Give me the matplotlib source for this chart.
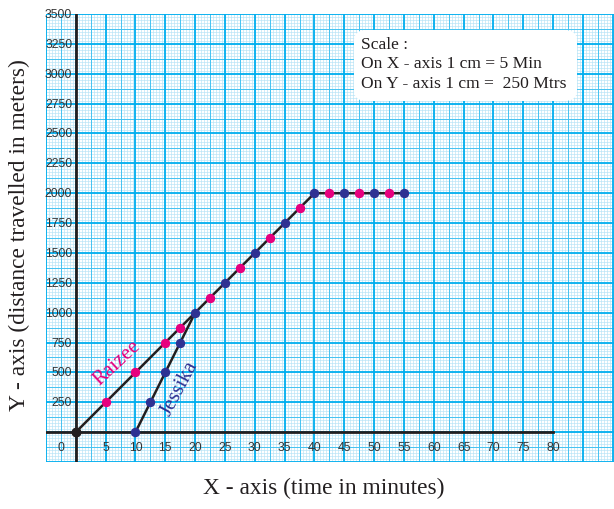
import numpy as np
import matplotlib
matplotlib.use("Agg")
import matplotlib.pyplot as plt
from matplotlib.patches import FancyBboxPatch

# ---- data ----
raizee_t = [5, 10, 15, 17.5, 22.5, 27.5, 32.5, 37.5, 42.5, 47.5, 52.5]
raizee_d = [250, 500, 750, 875, 1125, 1375, 1625, 1875, 2000, 2000, 2000]
jessika_t = [10, 12.5, 15, 17.5, 20, 25, 30, 35, 40, 45, 50, 55]
jessika_d = [0, 250, 500, 750, 1000, 1250, 1500, 1750, 2000, 2000, 2000, 2000]
raizee_path_t = [0, 20, 40, 55]
raizee_path_d = [0, 1000, 2000, 2000]
jessika_path_t = [10, 20]
jessika_path_d = [0, 1000]
origin_t = [0]
origin_d = [0]

x_ticks = [0, 5, 10, 15, 20, 25, 30, 35, 40, 45, 50, 55, 60, 65, 70, 75, 80]
y_ticks = [250, 500, 750, 1000, 1250, 1500, 1750, 2000, 2250, 2500, 2750,
           3000, 3250, 3500]

PINK = "#e6007e"
NAVY = "#2e3192"
BLACK = "#231f20"
MAJ = "#00aeef"
MED = "#45c2f1"
MIN = "#b5e3f7"

fig = plt.figure(figsize=(6.14, 5.10), dpi=100)
ax = fig.add_axes([46 / 614, (510 - 463) / 510, 568 / 614, 448 / 510])
xmin, xmax = -5, 90.2
ymin, ymax = -250, 3500
ax.set_xlim(xmin, xmax)
ax.set_ylim(ymin, ymax)
for s in ax.spines.values():
    s.set_visible(False)
ax.set_xticks([])
ax.set_yticks([])

# graph paper grid
xs_min = np.arange(-5, 90.01, 0.5)
ys_min = np.arange(-250, 3500.1, 25)
ax.vlines(xs_min, ymin, ymax, color=MIN, lw=0.45, zorder=0)
ax.hlines(ys_min, xmin, xmax, color=MIN, lw=0.45, zorder=0)
xs_med = np.arange(-2.5, 90.01, 5)
ys_med = np.arange(-125, 3500.1, 250)
ax.vlines(xs_med, ymin, ymax, color=MED, lw=0.7, zorder=0)
ax.hlines(ys_med, xmin, xmax, color=MED, lw=0.7, zorder=0)
xs_maj = np.arange(-5, 90.01, 5)
ys_maj = np.arange(-250, 3500.1, 250)
ax.vlines(xs_maj, ymin, ymax, color=MAJ, lw=1.3, zorder=0)
ax.hlines(ys_maj, xmin, xmax, color=MAJ, lw=1.3, zorder=0)

# axes lines
ax.plot([0, 0], [ymin, ymax], color=BLACK, lw=2, zorder=2)
ax.plot([xmin, x_ticks[-1]], [0, 0], color=BLACK, lw=2, zorder=2)

# tick labels
for t in x_ticks:
    xp = -2.5 if t == 0 else t
    ax.text(xp, -125, str(t), ha="center", va="center", fontsize=8.8,
            family="Liberation Sans", color="#333333", zorder=3)
for v in y_ticks:
    ax.text(-0.6, v, str(v), ha="right", va="center", fontsize=8.8,
            family="Liberation Sans", color="#333333", zorder=3)

# data lines
ax.plot(raizee_path_t, raizee_path_d, color=BLACK, lw=1.8, zorder=4)
ax.plot(jessika_path_t, jessika_path_d, color=BLACK, lw=1.8, zorder=4)
ax.plot(raizee_t, raizee_d, "o", color=PINK, ms=5.8, zorder=5)
ax.plot(jessika_t, jessika_d, "o", color=NAVY, ms=5.8, zorder=5)
ax.plot(origin_t, origin_d, "o", color=BLACK, ms=6.2, zorder=5)

# series labels
ax.text(6.9, 585, "Raizee", rotation=43, color=PINK, fontsize=15,
        family="Liberation Serif", ha="center", va="center", zorder=6)
ax.text(17.4, 370, "Jessika", rotation=62, color=NAVY, fontsize=15,
        family="Liberation Serif", ha="center", va="center", zorder=6)

# scale box
box = FancyBboxPatch((354 / 614, 1 - 102 / 510), (577 - 354) / 614, (102 - 31) / 510,
                     boxstyle="round,pad=0,rounding_size=0.02",
                     transform=fig.transFigure, facecolor="white",
                     edgecolor="none", zorder=7)
fig.patches.append(box)
scale_lines = ["Scale :", "On X - axis 1 cm = 5 Min",
               "On Y - axis 1 cm =  250 Mtrs"]
for i, line in enumerate(scale_lines):
    fig.text(361 / 614, 1 - (45 + 19.5 * i) / 510, line, fontsize=12.6,
             family="Liberation Serif", color=BLACK, ha="left", va="center",
             zorder=8)

# axis titles
fig.text(19 / 614, 1 - 235 / 510, "Y - axis (distance travelled in meters)",
         rotation=90, fontsize=16.8, family="Liberation Serif", color=BLACK,
         ha="center", va="center")
fig.text(324 / 614, 1 - 488 / 510, "X - axis (time in minutes)",
         fontsize=16.8, family="Liberation Serif", color=BLACK,
         ha="center", va="center")

fig.savefig("out.png", dpi=100, facecolor="white")
